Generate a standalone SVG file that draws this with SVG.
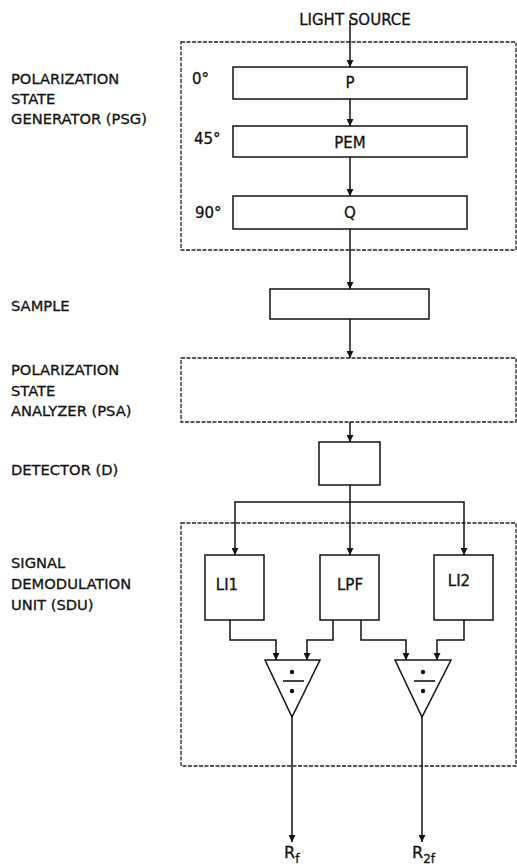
<svg xmlns="http://www.w3.org/2000/svg" width="517" height="865" viewBox="0 0 517 865">
<style>
  .box{fill:none;stroke:#111;stroke-width:1.5}
  .dash{fill:none;stroke:#222;stroke-width:1.3;stroke-dasharray:4 1.5}
  .wire{fill:none;stroke:#111;stroke-width:1.5}
  text{font-family:"DejaVu Sans","Liberation Sans",sans-serif;fill:#111;stroke:#111;stroke-width:0.3}
  .lbl{font-size:14.7px}
  .blbl{font-size:15px;text-anchor:middle}
  .ang{font-size:15px}
  .out{font-size:16px;text-anchor:start}
</style>
<defs>
  <marker id="ah" viewBox="0 0 10 10" refX="10" refY="5" markerWidth="8" markerHeight="7" markerUnits="userSpaceOnUse" orient="auto">
    <path d="M0,0 L10,5 L0,10 z" fill="#111"/>
  </marker>
</defs>
<rect width="517" height="865" fill="#fff"/>

<g id="labels">
  <text class="blbl" x="355" y="25">LIGHT SOURCE</text>
  <text class="lbl" x="11" y="84">POLARIZATION</text>
  <text class="lbl" x="11" y="104">STATE</text>
  <text class="lbl" x="11" y="124">GENERATOR (PSG)</text>
  <text class="lbl" x="11" y="311">SAMPLE</text>
  <text class="lbl" x="11" y="375">POLARIZATION</text>
  <text class="lbl" x="11" y="396">STATE</text>
  <text class="lbl" x="11" y="416">ANALYZER (PSA)</text>
  <text class="lbl" x="11" y="475">DETECTOR (D)</text>
  <text class="lbl" x="11" y="568">SIGNAL</text>
  <text class="lbl" x="11" y="589">DEMODULATION</text>
  <text class="lbl" x="11" y="610">UNIT (SDU)</text>
</g>

<g id="psg">
  <rect class="dash" x="181" y="42" width="335" height="208"/>
  <text class="ang" x="192" y="84">0°</text>
  <text class="ang" x="194" y="144">45°</text>
  <text class="ang" x="195" y="218">90°</text>
</g>
<g id="p"><rect class="box" x="233" y="67" width="234" height="32"/><text class="blbl" x="350" y="88">P</text></g>
<g id="pem"><rect class="box" x="233" y="126" width="234" height="31"/><text class="blbl" x="350" y="148">PEM</text></g>
<g id="q"><rect class="box" x="233" y="196" width="234" height="33"/><text class="blbl" x="350" y="218">Q</text></g>
<g id="sample"><rect class="box" x="270" y="289" width="159" height="30"/></g>
<g id="psa"><rect class="dash" x="181" y="358" width="335" height="64"/></g>
<g id="detector"><rect class="box" x="319" y="442" width="61" height="43"/></g>
<g id="sdu"><rect class="dash" x="181" y="523" width="335" height="243"/></g>
<g id="li1"><rect class="box" x="205" y="555" width="59" height="65"/><text class="blbl" x="227" y="590">LI1</text></g>
<g id="lpf"><rect class="box" x="320" y="555" width="59" height="65"/><text class="blbl" x="350" y="590">LPF</text></g>
<g id="li2"><rect class="box" x="434" y="555" width="59" height="65"/><text class="blbl" x="459" y="586">LI2</text></g>
<g id="div1">
  <path class="box" d="M265,660 L320,660 L292,717 z"/>
  <circle cx="292" cy="672" r="2.2" fill="#111"/>
  <line x1="283" y1="681" x2="304" y2="681" stroke="#111" stroke-width="1.6"/>
  <circle cx="292" cy="691" r="2.2" fill="#111"/>
</g>
<g id="div2">
  <path class="box" d="M395,660 L451,660 L422,717 z"/>
  <circle cx="423" cy="672" r="2.2" fill="#111"/>
  <line x1="414" y1="681" x2="435" y2="681" stroke="#111" stroke-width="1.6"/>
  <circle cx="423" cy="691" r="2.2" fill="#111"/>
</g>
<g id="outputs">
  <text class="out" x="284" y="858">R<tspan font-size="12" dy="5">f</tspan></text>
  <text class="out" x="412" y="858">R<tspan font-size="12" dy="5">2f</tspan></text>
</g>

<g id="connectors">
  <path class="wire" d="M350,20 V67" marker-end="url(#ah)"/>
  <path class="wire" d="M350,99 V126" marker-end="url(#ah)"/>
  <path class="wire" d="M350,157 V196" marker-end="url(#ah)"/>
  <path class="wire" d="M350,229 V289" marker-end="url(#ah)"/>
  <path class="wire" d="M350,319 V358" marker-end="url(#ah)"/>
  <path class="wire" d="M350,422 V442" marker-end="url(#ah)"/>
  <path class="wire" d="M350,485 V555" marker-end="url(#ah)"/>
  <path class="wire" d="M350,502 H235 V555" marker-end="url(#ah)"/>
  <path class="wire" d="M350,502 H464 V555" marker-end="url(#ah)"/>
  <path class="wire" d="M230,620 V640 H276 V660" marker-end="url(#ah)"/>
  <path class="wire" d="M333,620 V640 H307 V660" marker-end="url(#ah)"/>
  <path class="wire" d="M361,620 V640 H406 V660" marker-end="url(#ah)"/>
  <path class="wire" d="M464,620 V640 H437 V660" marker-end="url(#ah)"/>
  <path class="wire" d="M292,717 V842" marker-end="url(#ah)"/>
  <path class="wire" d="M422,717 V842" marker-end="url(#ah)"/>
</g>
</svg>
